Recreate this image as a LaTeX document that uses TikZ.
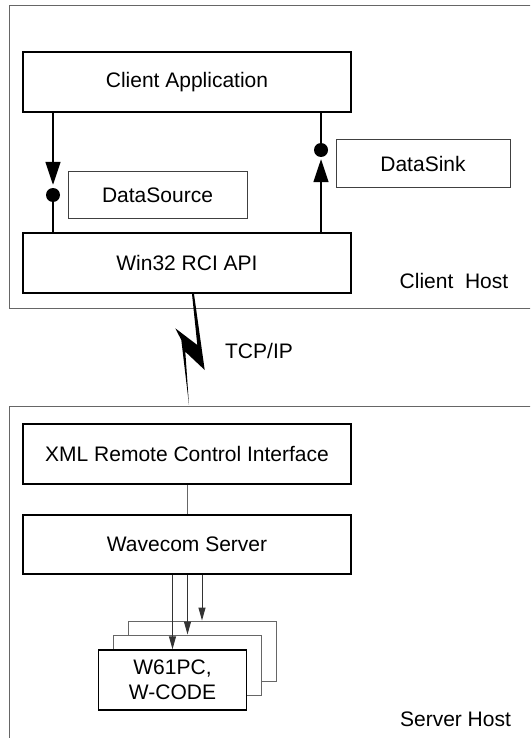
\documentclass[tikz,border=0pt]{standalone}
\usepackage{fontspec}
\setmainfont{Liberation Sans}
\usetikzlibrary{arrows.meta}

\begin{document}
\begin{tikzpicture}[x=1pt,y=-1pt,font=\fontsize{21}{25}\selectfont,
	layer/.style={draw,line width=1.5pt,minimum width=328pt,minimum height=60pt,inner sep=0pt},
	iface/.style={draw=black!75,line width=1pt,inner sep=0pt},
	card/.style={draw=black!60,fill=white,line width=1pt,minimum width=148pt,minimum height=60pt},
	dot/.style={circle,fill,inner sep=0pt,minimum size=14pt},
	host/.style={draw=black!60,line width=1pt},
	link/.style={line width=1.5pt},
	feed/.style={draw=black!80,line width=1pt,-{Triangle[length=13pt,width=7pt]}}]
		\path[use as bounding box,clip] (0,0) rectangle (530,738);
		
		\draw[host] (540,6)--(9,6)--(9,308)--(540,308);
		\draw[host] (540,406)--(9,406)--(9,750);
		
		\node[layer] (app) at (187,82) {Client Application};
		\node[layer] (win) at (187,263) {Win32 RCI API};
		\node[iface,minimum width=179pt,minimum height=46pt] (src) at (157.5,195) {DataSource};
		\node[iface,minimum width=174pt,minimum height=47pt] (sink) at (423,163.5) {DataSink};
		\node (client) at (454,281) {Client~~Host};
		\node[dot] (dotL) at (53,195) {};
		\node[dot] (dotR) at (321,150) {};
		
		\draw[link,-{Triangle[length=23pt,width=15pt]},shorten >=3pt] (app.south -| dotL)--(dotL.north);
		\draw[link] (dotL)--(win.north -| dotL);
		\draw[link,-{Triangle[length=23pt,width=15pt]},shorten >=2pt] (win.north -| dotR)--(dotR.south);
		\draw[link] (dotR)--(app.south -| dotR);
		
		\fill (192,294)--(194,294)--(204.7,370)--(185.3,351.7)--(189,405)--(181.3,340)--(175.3,328.3)--(197.3,345)--cycle;
		\node (tcp) at (259,351) {TCP/IP};
		
		\node[layer] (xml) at (187,454) {XML Remote Control Interface};
		\node[layer,minimum height=59pt] (wave) at (187,544.5) {Wavecom Server};
		\draw[host] (xml.south)--(wave.north);
		
		\node[card] (back) at (202,651) {};
		\node[card] (mid) at (187.5,665) {};
		\node[card,draw=black,line width=1.5pt,align=center] (front) at (172.5,680) {W61PC,\\W-CODE};
		\draw[feed] (wave.south -| front.north)--(front.north);
		\draw[feed] (wave.south -| mid.north)--(mid.north);
		\draw[feed] (wave.south -| back.north)--(back.north);
		\node (server) at (455.5,719) {Server Host};
	\end{tikzpicture}
\end{document}
